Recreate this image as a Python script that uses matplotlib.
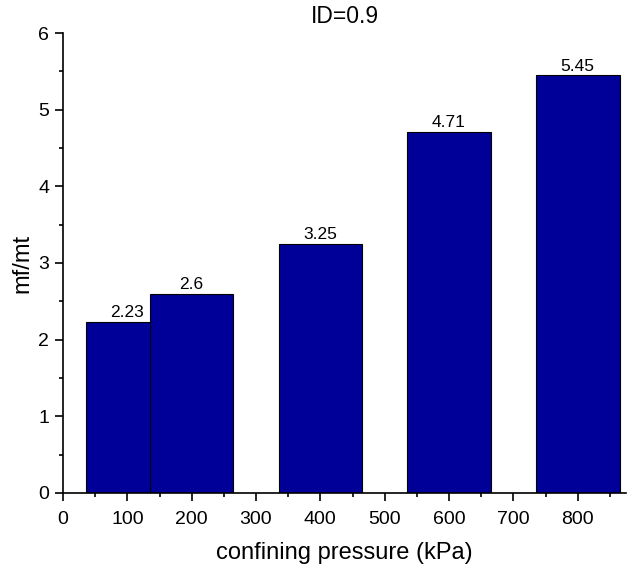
import numpy as np
import matplotlib.pyplot as plt
from matplotlib.ticker import MultipleLocator

plt.rcParams['font.family'] = ['Liberation Sans', 'DejaVu Sans']

pressure = [100, 200, 400, 600, 800]
ratio = [2.23, 2.6, 3.25, 4.71, 5.45]
labels = ['2.23', '2.6', '3.25', '4.71', '5.45']

fig = plt.figure(figsize=(6.28, 5.69), dpi=100)
ax = fig.add_axes([0.1003, 0.1336, 0.8965, 0.8084])

bars = ax.bar(pressure, ratio, width=130, color='#000099', edgecolor='black', linewidth=0.8)
for b, t in zip(bars, labels):
    ax.text(b.get_x() + b.get_width() / 2, b.get_height() + 0.02, t,
            ha='center', va='bottom', fontsize=12.5)

ax.set_xlim(0, 875)
ax.set_ylim(0, 6)
ax.xaxis.set_major_locator(MultipleLocator(100))
ax.xaxis.set_minor_locator(MultipleLocator(50))
ax.yaxis.set_major_locator(MultipleLocator(1))
ax.yaxis.set_minor_locator(MultipleLocator(0.5))
ax.tick_params(which='major', length=6, width=1.2, labelsize=14, pad=4)
ax.tick_params(axis='x', pad=7)
ax.tick_params(which='minor', length=3, width=1.2)
ax.spines['top'].set_visible(False)
ax.spines['right'].set_visible(False)
ax.spines['left'].set_linewidth(1.2)
ax.spines['bottom'].set_linewidth(1.2)

ax.set_xlabel('confining pressure (kPa)', fontsize=17, labelpad=10)
ax.set_ylabel('mf/mt', fontsize=17, labelpad=3)
ax.set_title('ID=0.9', fontsize=16.5, pad=7)

fig.savefig('out.png', dpi=100)
